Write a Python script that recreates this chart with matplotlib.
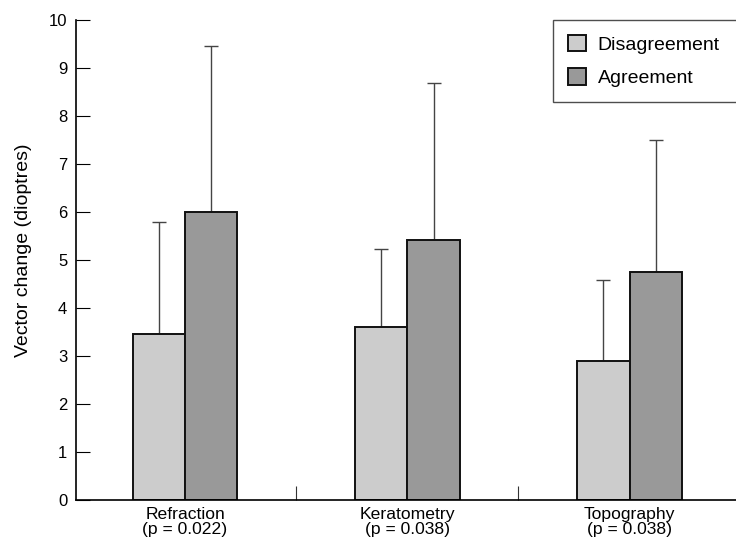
import numpy as np
import matplotlib
matplotlib.use("Agg")
import matplotlib.pyplot as plt
from matplotlib.ticker import FixedLocator

plt.rcParams['font.family'] = ['Liberation Sans', 'DejaVu Sans']

# data
categories = ["Refraction\n(p = 0.022)", "Keratometry\n(p = 0.038)", "Topography\n(p = 0.038)"]
series_names = ["Disagreement", "Agreement"]
disagree_mean = [3.47, 3.62, 2.90]
disagree_top = [5.80, 5.23, 4.58]
agree_mean = [6.00, 5.43, 4.75]
agree_top = [9.47, 8.69, 7.50]
yticks = list(range(0, 11))

colors = {
    "light": "#cccccc",
    "dark": "#999999",
    "edge": "#111111",
    "err": "#444444",
}

W, H = 736, 543
fig = plt.figure(figsize=(W / 100, H / 100), dpi=100)
ax = fig.add_axes([75.7 / W, (H - 500.3) / H, (W - 75.7) / W, (500.3 - 20.3) / H])

x = np.arange(len(categories))
width = 0.236

b1 = ax.bar(x - width / 2, disagree_mean, width, color=colors["light"],
            edgecolor=colors["edge"], linewidth=1.4, label=series_names[0], zorder=2)
b2 = ax.bar(x + width / 2, agree_mean, width, color=colors["dark"],
            edgecolor=colors["edge"], linewidth=1.4, label=series_names[1], zorder=2)

# upward-only error bars
for xs, mean, top in [(x - width / 2, disagree_mean, disagree_top),
                      (x + width / 2, agree_mean, agree_top)]:
    upper = np.array(top) - np.array(mean)
    ax.errorbar(xs, mean, yerr=[np.zeros_like(upper), upper], fmt='none',
                ecolor=colors["err"], elinewidth=1.0, capsize=4.7, capthick=1.0, zorder=1)

ax.set_xlim(-0.4918, 2.4788)
ax.set_ylim(0, 10)
ax.set_yticks(yticks)
ax.set_xticks(x)
ax.set_xticklabels(categories, fontsize=12.6, linespacing=0.95)
ax.xaxis.set_minor_locator(FixedLocator([0.5, 1.5]))

ax.spines['top'].set_visible(False)
ax.spines['right'].set_visible(False)
ax.spines['left'].set_linewidth(1.2)
ax.spines['bottom'].set_linewidth(1.2)

ax.tick_params(axis='y', direction='in', length=10, width=0.8, labelsize=12, pad=6)
ax.tick_params(axis='x', which='major', length=0, pad=5)
ax.tick_params(axis='x', which='minor', direction='in', length=10, width=0.8, color='#333333')

ax.set_ylabel("Vector change (dioptres)", fontsize=14)
ax.yaxis.set_label_coords(-0.066, 0.521)

# legend box runs past the right edge of the figure, as in the reference
fig.legend(handles=[b1, b2], labels=series_names, loc='upper left',
           bbox_to_anchor=(553 / W, 1 - 20 / H, 200 / W, 0.0), mode='expand',
           fontsize=14, frameon=True,
           fancybox=False, edgecolor='#222222', handlelength=0.95, handleheight=0.95,
           handletextpad=0.6, labelspacing=0.75, borderpad=0.75, borderaxespad=0)

fig.savefig("out.png", dpi=100)
